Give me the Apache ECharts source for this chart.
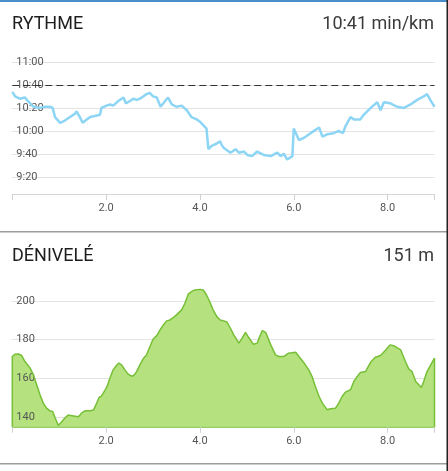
<!DOCTYPE html>
<html>
<head>
<meta charset="utf-8">
<script src="https://cdn.jsdelivr.net/npm/echarts@6/dist/echarts.min.js"></script>
<style>
html, body { margin: 0; padding: 0; background: #fff; }
#graphImg { width: 448px; height: 471px; }
</style>
</head>
<body>
<div id="graphImg"></div>
<script>
// rythme (min/km, stored in seconds) against distance in km
var paceKm = [0.00,0.06,0.16,0.27,0.31,0.45,0.59,0.70,0.80,0.86,
    0.91,1.02,1.12,1.23,1.34,1.37,1.44,1.50,1.59,1.66,
    1.76,1.87,1.90,2.01,2.08,2.15,2.26,2.37,2.42,2.51,
    2.58,2.65,2.72,2.79,2.86,2.93,3.00,3.08,3.16,3.22,
    3.32,3.40,3.50,3.61,3.72,3.82,3.93,4.00,4.07,4.14,
    4.18,4.25,4.36,4.43,4.46,4.51,4.65,4.76,4.83,4.94,
    5.01,5.11,5.22,5.36,5.51,5.65,5.72,5.79,5.86,5.97,
    6.00,6.11,6.22,6.36,6.54,6.61,6.71,6.85,6.96,7.05,
    7.10,7.21,7.28,7.42,7.49,7.64,7.78,7.85,7.92,8.06,
    8.20,8.35,8.49,8.63,8.77,8.84,8.91,9.00];
var paceSec = [634,630,628,629,627,621,620,621,621,620,
    612,607,609,612,615,617,612,607,610,612,
    613,614,620,622,623,622,626,629,624,626,
    628,627,628,630,632,633,630,629,621,624,
    629,623,621,622,618,612,610,608,605,602,
    584,587,589,591,588,585,581,584,581,582,
    579,578,582,579,578,581,578,580,575,578,
    602,592,594,598,603,595,597,598,600,598,
    604,612,610,610,614,620,625,618,625,624,
    621,620,623,627,630,632,627,621];
var avgPace = 640;
var paceTicks = [560, 580, 600, 620, 640, 660];

// dénivelé (m) against distance in km
var elevKm = [0.00,0.06,0.13,0.20,0.27,0.38,0.45,0.52,0.59,0.66,
    0.73,0.80,0.86,0.91,0.98,1.05,1.12,1.19,1.27,1.30,
    1.41,1.48,1.55,1.66,1.73,1.80,1.85,1.90,1.98,2.02,
    2.08,2.15,2.22,2.27,2.33,2.40,2.47,2.54,2.59,2.65,
    2.72,2.79,2.86,2.92,3.00,3.08,3.15,3.22,3.29,3.36,
    3.43,3.50,3.61,3.68,3.75,3.82,3.89,4.00,4.07,4.14,
    4.21,4.28,4.36,4.43,4.51,4.58,4.65,4.72,4.83,4.90,
    4.97,5.04,5.14,5.22,5.26,5.33,5.40,5.51,5.61,5.68,
    5.79,5.89,6.04,6.11,6.22,6.32,6.39,6.46,6.54,6.61,
    6.71,6.78,6.89,6.96,7.03,7.10,7.21,7.28,7.35,7.42,
    7.53,7.64,7.74,7.85,7.96,8.05,8.13,8.28,8.38,8.45,
    8.52,8.60,8.72,8.77,8.84,8.92,9.00];
var elevM = [171.3,172.5,172.6,171.8,168.7,165.3,161.8,156.7,151.5,147.2,
    144.6,143.2,142.9,139.8,135.7,137.4,139.5,141.0,140.7,140.1,
    140.1,142.1,143.2,143.2,143.6,147.2,150.1,150.8,154.1,155.8,
    160.1,164.4,166.6,167.9,167.0,164.4,162.2,161.1,161.5,163.5,
    167.0,170.1,172.1,175.6,180.2,182.1,185.0,187.6,189.7,190.2,
    191.4,192.8,195.4,198.8,203.5,204.8,205.7,206.0,205.7,203.1,
    199.6,195.4,191.9,190.2,189.7,189.0,185.9,182.5,178.2,180.8,
    183.8,181.1,177.6,178.2,180.8,184.7,183.8,177.3,172.1,171.3,
    171.3,173.0,173.5,171.3,167.9,164.4,160.9,155.8,150.6,147.2,
    143.8,144.3,144.6,147.2,150.6,152.9,154.1,158.4,160.9,163.0,
    163.5,168.4,170.9,171.8,174.7,177.3,176.9,174.7,168.7,164.9,
    163.5,158.4,155.3,158.4,163.5,167.0,170.4];
var elevMin = 135;
var elevTicks = [140, 160, 180, 200];

var xTicks = [0, 2, 4, 6, 8, 9];
var xLabels = [2, 4, 6, 8];

var font = 'Roboto, "Noto Sans", sans-serif';
var green = '#76bf36';

function fmtPace(v) {
    var m = Math.floor(v / 60), s = Math.round(v % 60);
    return m + ':' + (s < 10 ? '0' : '') + s;
}

var paceData = paceKm.map(function (k, i) { return [k, paceSec[i]]; });
// close the profile down to the axis so its edges get stroked like the original
var elevData = [[elevKm[0], elevMin]]
    .concat(elevKm.map(function (k, i) { return [k, elevM[i]]; }))
    .concat([[elevKm[elevKm.length - 1], elevMin]]);

function xAxisFor(idx, lineColor) {
    return {
        gridIndex: idx,
        type: 'value',
        min: 0,
        max: 9,
        axisLine: { lineStyle: { color: lineColor, width: idx ? 1.5 : 1 } },
        axisTick: { length: 6, customValues: xTicks, lineStyle: { color: '#d0d0d0' } },
        axisLabel: {
            customValues: xLabels, margin: 9, fontSize: 11, color: '#555', fontFamily: font,
            formatter: function (v) { return v.toFixed(1); }
        },
        splitLine: { show: false }
    };
}

function yAxisFor(idx, min, max, ticks, fmt) {
    return {
        gridIndex: idx,
        type: 'value',
        min: min,
        max: max,
        z: 3,
        axisLine: { show: false },
        axisTick: { show: false, customValues: ticks },
        axisLabel: {
            inside: true, margin: 4, customValues: ticks, fontSize: 11,
            color: '#555', fontFamily: font, formatter: fmt
        },
        splitLine: { lineStyle: { color: '#e3e3e3', width: 1 } }
    };
}

var titleStyle = { fontSize: 18, fontWeight: 'normal', color: '#1e1e1e', fontFamily: font };
var valueStyle = { fontSize: 18, fontWeight: 'normal', color: '#3a3a3a', fontFamily: font };

option = {
    animation: false,
    backgroundColor: '#fff',
    title: [
        { text: 'RYTHME', left: 12, top: 15, padding: 0, textStyle: titleStyle },
        { text: '10:41 min/km', right: 14, top: 15, padding: 0, textStyle: valueStyle },
        { text: 'DÉNIVELÉ', left: 12, top: 247, padding: 0, textStyle: titleStyle },
        { text: '151 m', right: 14, top: 247, padding: 0, textStyle: valueStyle }
    ],
    grid: [
        { left: 12.3, right: 13.5, top: 50.5, height: 143.5 },
        { left: 12.3, right: 13.5, top: 279.7, height: 147 }
    ],
    xAxis: [xAxisFor(0, '#d6d6d6'), xAxisFor(1, green)],
    yAxis: [
        yAxisFor(0, 545, 670, paceTicks, fmtPace),
        yAxisFor(1, elevMin, 211, elevTicks, function (v) { return String(v); })
    ],
    series: [
        {
            name: 'Rythme',
            type: 'line',
            xAxisIndex: 0,
            yAxisIndex: 0,
            data: paceData,
            symbol: 'none',
            lineStyle: { color: '#8dd5f5', width: 2.5 },
            markLine: {
                silent: true,
                symbol: 'none',
                label: { show: false },
                lineStyle: { color: '#333', type: [7, 4], width: 1 },
                data: [{ yAxis: avgPace }]
            }
        },
        {
            name: 'Dénivelé',
            type: 'line',
            xAxisIndex: 1,
            yAxisIndex: 1,
            data: elevData,
            symbol: 'none',
            lineStyle: { color: green, width: 1.5 },
            areaStyle: { color: '#b5e27f', opacity: 1, origin: 'start' }
        }
    ],
    graphic: [
        { type: 'rect', shape: { x: 0, y: 0, width: 448, height: 2 }, style: { fill: '#4a8ec9' }, silent: true },
        { type: 'rect', shape: { x: 0, y: 231, width: 447, height: 1.5 }, style: { fill: '#9c9c9c' }, silent: true },
        { type: 'rect', shape: { x: 0, y: 463, width: 447, height: 1.5 }, style: { fill: '#9c9c9c' }, silent: true },
        { type: 'rect', shape: { x: 446.5, y: 0, width: 1.5, height: 471 }, style: { fill: '#222' }, silent: true }
    ]
};

//初始化echarts实例
var myChart = echarts.init(document.getElementById('graphImg'));
myChart.setOption(option);
window.addEventListener('resize', function () {
    myChart.resize();
});
</script>
</body>
</html>
